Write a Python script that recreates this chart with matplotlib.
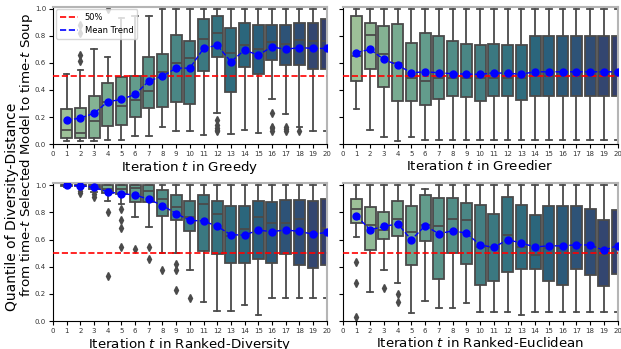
import matplotlib
matplotlib.use("Agg")
import matplotlib.pyplot as plt
from matplotlib.lines import Line2D
import seaborn as sns

iterations = list(range(1, 21))
tick_labels = [str(i) for i in range(0, 21)]

# ---- Greedy ----
greedy_low = [0.025, 0.025, 0.025, 0.03, 0.03, 0.06, 0.06, 0.125, 0.098, 0.098, 0.069, 0.228, 0.076, 0.105, 0.08, 0.333, 0.225, 0.125, 0.10, 0.10]
greedy_q1 = [0.05, 0.05, 0.05, 0.137, 0.145, 0.20, 0.265, 0.272, 0.314, 0.299, 0.542, 0.64, 0.387, 0.571, 0.517, 0.62, 0.583, 0.583, 0.551, 0.551]
greedy_med = [0.105, 0.08, 0.175, 0.31, 0.284, 0.325, 0.395, 0.534, 0.596, 0.632, 0.777, 0.821, 0.669, 0.735, 0.699, 0.755, 0.738, 0.767, 0.762, 0.76]
greedy_q3 = [0.262, 0.27, 0.355, 0.45, 0.493, 0.502, 0.64, 0.662, 0.804, 0.762, 0.926, 0.946, 0.853, 0.895, 0.877, 0.877, 0.877, 0.895, 0.895, 0.92]
greedy_high = [0.515, 0.55, 0.70, 0.64, 0.93, 0.946, 0.944, 1.0, 1.0, 1.0, 1.0, 1.0, 1.0, 1.0, 1.0, 1.0, 1.0, 1.0, 1.0, 1.0]
greedy_mean = [0.176, 0.194, 0.228, 0.314, 0.33, 0.368, 0.466, 0.502, 0.561, 0.561, 0.706, 0.73, 0.608, 0.694, 0.657, 0.718, 0.699, 0.713, 0.706, 0.706]
greedy_fliers = [[], [0.88, 0.82, 0.66, 0.61], [], [1.0], [], [], [], [], [], [], [],
                 [0.18, 0.14, 0.12, 0.105, 0.095], [], [], [],
                 [0.228, 0.13, 0.118, 0.10], [0.13, 0.11, 0.095], [0.10], [], []]

# ---- Greedier ----
greedier_low = [0.257, 0.105, 0.056, 0.027, 0.056, 0.032, 0.032, 0.032, 0.032, 0.032, 0.032, 0.032, 0.032, 0.032, 0.032, 0.032, 0.032, 0.032, 0.032, 0.032]
greedier_q1 = [0.463, 0.551, 0.424, 0.321, 0.316, 0.287, 0.333, 0.355, 0.348, 0.321, 0.355, 0.355, 0.326, 0.355, 0.355, 0.355, 0.355, 0.355, 0.355, 0.355]
greedier_med = [0.652, 0.804, 0.662, 0.60, 0.485, 0.466, 0.485, 0.485, 0.485, 0.485, 0.485, 0.485, 0.485, 0.50, 0.50, 0.50, 0.50, 0.50, 0.50, 0.50]
greedier_q3 = [0.946, 0.892, 0.875, 0.885, 0.748, 0.821, 0.799, 0.76, 0.74, 0.728, 0.74, 0.728, 0.728, 0.801, 0.801, 0.801, 0.801, 0.801, 0.801, 0.801]
greedier_high = [1.0] * 20
greedier_mean = [0.676, 0.699, 0.625, 0.583, 0.527, 0.534, 0.527, 0.52, 0.517, 0.515, 0.527, 0.522, 0.517, 0.534, 0.534, 0.534, 0.534, 0.534, 0.534, 0.534]
greedier_fliers = [[] for _ in range(20)]

# ---- Ranked-Diversity ----
rdiv_low = [0.985, 0.985, 0.95, 0.888, 0.86, 0.765, 0.692, 0.501, 0.501, 0.379, 0.139, 0.076, 0.076, 0.117, 0.044, 0.171, 0.171, 0.171, 0.171, 0.171]
rdiv_q1 = [0.995, 0.993, 0.97, 0.946, 0.934, 0.88, 0.878, 0.777, 0.741, 0.66, 0.516, 0.494, 0.428, 0.428, 0.46, 0.428, 0.494, 0.416, 0.391, 0.416]
rdiv_med = [1.0, 1.0, 0.985, 0.973, 0.973, 0.978, 0.958, 0.90, 0.839, 0.765, 0.861, 0.79, 0.623, 0.677, 0.77, 0.721, 0.721, 0.751, 0.66, 0.685]
rdiv_q3 = [1.0, 1.0, 1.0, 1.0, 1.0, 1.0, 1.0, 0.966, 0.932, 0.888, 0.929, 0.888, 0.848, 0.844, 0.888, 0.875, 0.892, 0.892, 0.888, 0.90]
rdiv_high = [1.0] * 20
rdiv_mean = [0.999, 0.998, 0.985, 0.951, 0.939, 0.929, 0.897, 0.851, 0.792, 0.741, 0.738, 0.697, 0.636, 0.633, 0.67, 0.658, 0.672, 0.66, 0.64, 0.653]
rdiv_fliers = [[], [0.96, 0.94], [0.936, 0.912], [0.807, 0.335], [0.826, 0.743, 0.685, 0.543],
               [0.53], [0.548, 0.457], [0.379], [0.423, 0.377, 0.227], [0.166],
               [], [], [], [], [], [], [], [], [], []]

# ---- Ranked-Euclidean ----
reuc_low = [0.619, 0.213, 0.379, 0.281, 0.056, 0.147, 0.093, 0.098, 0.13, 0.068, 0.068, 0.068, 0.042, 0.068, 0.068, 0.068, 0.068, 0.068, 0.068, 0.068]
reuc_q1 = [0.721, 0.526, 0.606, 0.623, 0.411, 0.587, 0.306, 0.501, 0.421, 0.269, 0.293, 0.364, 0.384, 0.384, 0.298, 0.262, 0.384, 0.342, 0.257, 0.35]
reuc_med = [0.824, 0.709, 0.672, 0.751, 0.658, 0.709, 0.697, 0.751, 0.741, 0.545, 0.545, 0.636, 0.545, 0.487, 0.538, 0.538, 0.545, 0.545, 0.487, 0.54]
reuc_q3 = [0.897, 0.839, 0.807, 0.888, 0.844, 0.927, 0.905, 0.905, 0.868, 0.853, 0.792, 0.912, 0.853, 0.785, 0.844, 0.844, 0.844, 0.829, 0.741, 0.819]
reuc_high = [1.0, 1.0, 1.0, 1.0, 1.0, 0.971, 1.0, 1.0, 1.0, 1.0, 1.0, 1.0, 1.0, 1.0, 1.0, 1.0, 1.0, 1.0, 1.0, 1.0]
reuc_mean = [0.775, 0.672, 0.697, 0.716, 0.599, 0.702, 0.643, 0.665, 0.648, 0.56, 0.543, 0.599, 0.575, 0.545, 0.555, 0.553, 0.562, 0.56, 0.521, 0.555]
reuc_fliers = [[0.435, 0.281, 0.032], [], [0.244], [0.196, 0.142]] + [[] for _ in range(16)]

panels = [
    ("Greedy", greedy_low, greedy_q1, greedy_med, greedy_q3, greedy_high, greedy_mean, greedy_fliers),
    ("Greedier", greedier_low, greedier_q1, greedier_med, greedier_q3, greedier_high, greedier_mean, greedier_fliers),
    ("Ranked-Diversity", rdiv_low, rdiv_q1, rdiv_med, rdiv_q3, rdiv_high, rdiv_mean, rdiv_fliers),
    ("Ranked-Euclidean", reuc_low, reuc_q1, reuc_med, reuc_q3, reuc_high, reuc_mean, reuc_fliers),
]

palette = sns.color_palette("crest", 20)
palette = [sns.desaturate(c, 0.75) for c in palette]

fig = plt.figure(figsize=(6.21, 3.49), dpi=100)
W, H = 621, 349
rects = [
    (53, 6.5, 326.7, 144.3),
    (342.7, 6.5, 617.5, 144.3),
    (53, 183.3, 326.7, 321),
    (342.7, 183.3, 617.5, 321),
]

edge = "#4a4a4a"
for i, (name, lo, q1, med, q3, hi, mean, fl) in enumerate(panels):
    x0, y0, x1, y1 = rects[i]
    ax = fig.add_axes([x0 / W, 1 - y1 / H, (x1 - x0) / W, (y1 - y0) / H])
    stats = []
    for k in range(20):
        stats.append(dict(whislo=lo[k], q1=q1[k], med=med[k], q3=q3[k], whishi=hi[k],
                          fliers=fl[k], mean=mean[k]))
    bp = ax.bxp(stats, positions=iterations, widths=0.8, capwidths=0.4,
                patch_artist=True, showfliers=True, showmeans=False,
                boxprops=dict(edgecolor=edge, linewidth=1.3),
                medianprops=dict(color=edge, linewidth=1.3),
                whiskerprops=dict(color=edge, linewidth=1.3),
                capprops=dict(color=edge, linewidth=1.3),
                flierprops=dict(marker="d", markerfacecolor=edge, markeredgecolor=edge,
                                markersize=4, linestyle="none"))
    for patch, c in zip(bp["boxes"], palette):
        patch.set_facecolor(c)
    ax.axhline(0.5, color="red", linestyle="--", linewidth=1.2, zorder=3)
    ax.plot(iterations, mean, linestyle="--", color="blue", linewidth=1.0,
            marker="o", markersize=5, zorder=4)
    ax.set_xlim(0, 20)
    ax.set_ylim(0, 1.015)
    ax.set_xticks(range(0, 21))
    ax.set_xticklabels(tick_labels)
    ax.set_yticks([0.0, 0.2, 0.4, 0.6, 0.8, 1.0])
    ax.tick_params(labelsize=5, length=3, pad=2, labelcolor="#333333")
    if i % 2 == 1:
        ax.set_yticklabels([])
    ax.set_xlabel(f"Iteration $t$ in {name}", fontsize=9.6, labelpad=1.5)
    for s in ("top", "right"):
        ax.spines[s].set_color("#b5b5b5")
        ax.spines[s].set_linewidth(1.5)
    if i == 0:
        handles = [Line2D([], [], color="red", linestyle="--", linewidth=1.2),
                   Line2D([], [], color="blue", linestyle="--", linewidth=1.2)]
        ax.legend(handles, ["50%", "Mean Trend"], loc="upper left", fontsize=6,
                  handlelength=2.2, borderpad=0.45, labelspacing=0.45, framealpha=0.8,
                  borderaxespad=0.35)

fig.text(12.5 / W, 1 - 207 / H, "Quantile of Diversity-Distance",
         rotation=90, va="center", ha="center", fontsize=10.0)
fig.text(27.0 / W, 1 - 155 / H, "from time-$t$ Selected Model to time-$t$ Soup",
         rotation=90, va="center", ha="center", fontsize=9.6)

fig.savefig("out.png", dpi=100)
